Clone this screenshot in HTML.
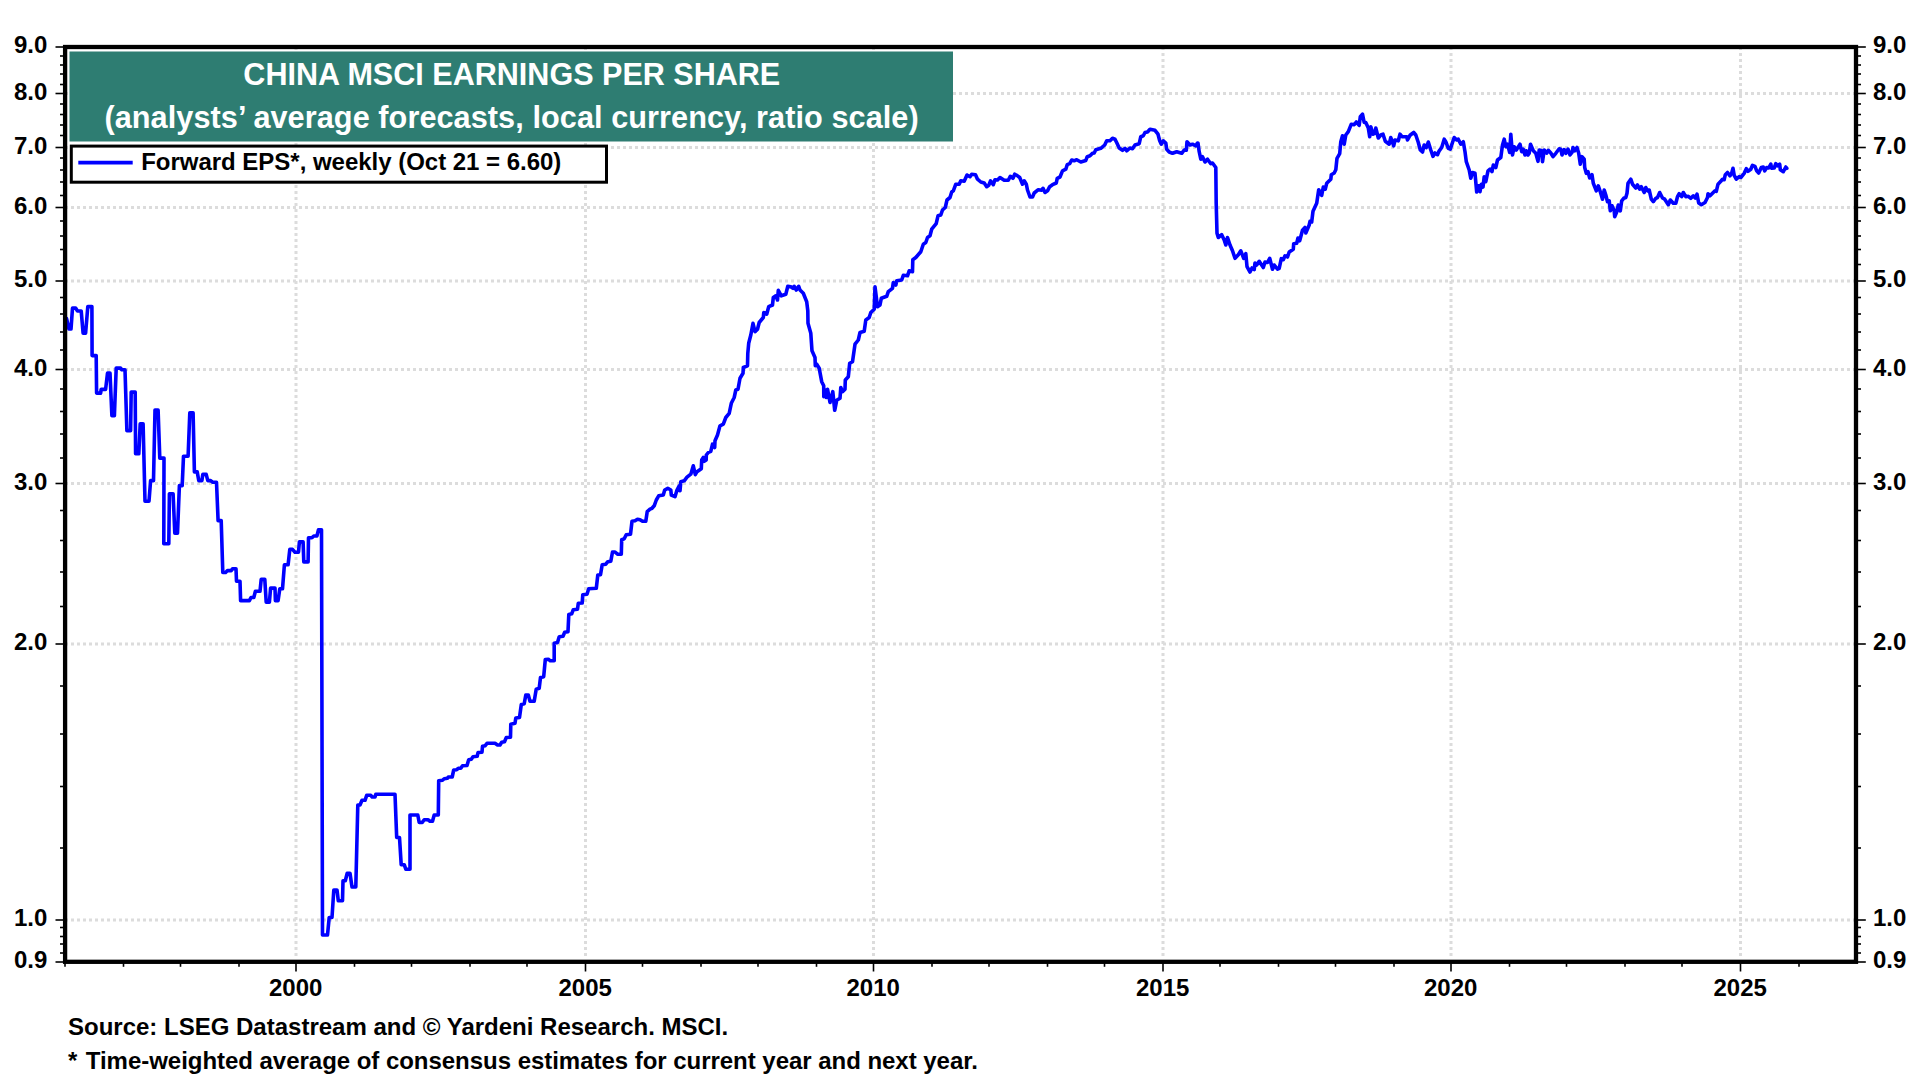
<!DOCTYPE html>
<html lang="en"><head><meta charset="utf-8"><title>China MSCI Earnings Per Share</title>
<style>html,body{margin:0;padding:0;background:#fff;}body{width:1920px;height:1080px;overflow:hidden;}svg{display:block;}text{font-family:"Liberation Sans",Arial,Helvetica,sans-serif;font-weight:bold;}</style></head><body>
<svg width="1920" height="1080" viewBox="0 0 1920 1080">
<rect width="1920" height="1080" fill="#fff"/>
<g stroke="#dcdcdc" stroke-width="3" stroke-dasharray="3 3" fill="none"><line x1="65" x2="1854" y1="920.0" y2="920.0"/><line x1="65" x2="1854" y1="644.0" y2="644.0"/><line x1="65" x2="1854" y1="483.5" y2="483.5"/><line x1="65" x2="1854" y1="369.5" y2="369.5"/><line x1="65" x2="1854" y1="281.0" y2="281.0"/><line x1="65" x2="1854" y1="207.5" y2="207.5"/><line x1="65" x2="1854" y1="147.5" y2="147.5"/><line x1="65" x2="1854" y1="93.5" y2="93.5"/><line x1="296.0" x2="296.0" y1="47" y2="959"/><line x1="585.5" x2="585.5" y1="47" y2="959"/><line x1="873.5" x2="873.5" y1="47" y2="959"/><line x1="1163.0" x2="1163.0" y1="47" y2="959"/><line x1="1451.0" x2="1451.0" y1="47" y2="959"/><line x1="1740.5" x2="1740.5" y1="47" y2="959"/></g>
<rect x="69.5" y="51.5" width="883.5" height="90" fill="#2e7d72"/>
<g fill="#fff" font-size="30.67px" text-anchor="middle"><text x="511.8" y="85" font-size="30.55px">CHINA MSCI EARNINGS PER SHARE</text><text x="511.6" y="127.7" letter-spacing="0.065">(analysts’ average forecasts, local currency, ratio scale)</text></g>
<rect x="71.3" y="146.1" width="535.2" height="36.1" fill="#fff" stroke="#000" stroke-width="3"/>
<line x1="78.3" x2="132.7" y1="162.6" y2="162.6" stroke="#0000ff" stroke-width="3.8"/>
<text x="141.2" y="170" font-size="24px" letter-spacing="-0.02" fill="#000">Forward EPS*, weekly (Oct 21 = 6.60)</text>
<path d="M66.5 318.5 L69.0 329.0 L71.0 329.0 L72.5 308.1 L75.6 308.1 L77.5 311.0 L81.2 311.0 L83.1 333.1 L85.6 333.1 L87.8 306.6 L91.9 306.6 L92.1 355.6 L96.2 355.6 L96.6 393.1 L100.6 393.1 L101.2 389.4 L105.6 389.4 L107.5 373.1 L110.0 373.1 L111.9 415.6 L114.4 415.6 L116.2 368.1 L120.6 368.1 L121.9 369.8 L125.0 369.8 L126.9 430.6 L130.6 430.6 L131.2 392.1 L135.2 392.1 L135.6 453.8 L138.8 453.8 L140.2 423.8 L143.1 423.8 L145.0 501.2 L149.0 501.2 L150.6 480.6 L153.5 480.6 L155.0 410.0 L158.1 410.0 L159.8 458.1 L164.0 458.1 L163.8 543.8 L168.8 543.8 L169.4 493.8 L173.1 493.8 L174.8 533.1 L177.5 533.1 L179.4 485.6 L182.2 485.6 L183.5 456.2 L188.1 456.2 L189.8 412.8 L193.1 412.8 L194.4 471.9 L197.2 471.9 L198.8 480.6 L201.9 480.6 L202.8 474.4 L206.2 474.4 L207.8 480.6 L210.6 480.6 L212.5 482.2 L216.5 482.2 L218.1 520.6 L221.2 520.6 L222.8 572.5 L225.6 572.5 L227.5 570.6 L231.2 570.6 L232.5 568.8 L236.0 568.8 L236.5 581.2 L240.0 581.2 L240.6 600.6 L249.4 600.6 L251.0 597.5 L253.8 597.5 L255.4 591.2 L260.0 591.2 L261.2 579.4 L264.8 579.4 L266.2 602.2 L269.4 602.2 L270.6 588.1 L275.0 588.1 L275.4 600.6 L278.1 600.6 L279.8 588.8 L282.5 588.8 L284.4 564.8 L288.1 564.8 L289.8 549.4 L292.5 549.4 L295.0 552.2 L298.5 552.2 L299.4 541.9 L303.1 541.9 L303.8 561.9 L308.1 561.9 L308.5 537.8 L311.9 537.8 L313.8 536.0 L316.9 536.0 L318.5 529.8 L321.5 529.8 L322.5 935.0 L327.5 935.0 L329.2 917.5 L332.0 917.5 L333.8 890.0 L337.0 890.0 L338.3 900.8 L342.5 900.8 L343.0 880.8 L345.3 880.8 L347.2 873.3 L350.0 873.3 L352.0 887.0 L355.8 887.0 L357.8 805.0 L360.0 805.0 L362.0 800.3 L365.0 800.3 L366.7 795.3 L370.8 795.3 L372.2 797.0 L375.0 797.0 L375.8 794.2 L395.0 794.2 L396.7 837.5 L399.5 837.5 L401.2 864.7 L404.2 864.7 L405.8 869.2 L410.0 869.2 L410.0 815.0 L417.8 815.0 L419.2 822.5 L422.2 822.5 L424.2 819.7 L428.0 819.7 L430.0 821.2 L432.5 821.2 L434.2 815.0 L438.3 815.0 L438.7 780.8 L442.5 780.3 L444.2 778.7 L447.5 778.3 L448.3 777.0 L452.2 777.0 L453.7 770.0 L456.7 769.7 L458.3 768.3 L460.8 768.3 L462.5 765.8 L467.0 765.5 L468.7 759.7 L471.3 759.2 L473.0 756.7 L477.2 756.3 L478.0 752.5 L482.0 752.2 L482.5 746.3 L485.0 745.8 L487.0 743.3 L495.0 743.3 L497.5 745.0 L500.0 745.0 L501.7 742.2 L504.5 741.7 L506.3 737.5 L510.5 737.2 L510.8 724.2 L515.0 723.3 L515.8 718.0 L519.5 717.5 L521.3 704.5 L524.2 703.8 L525.8 695.0 L528.3 695.0 L530.0 701.3 L534.2 701.3 L536.2 689.2 L539.2 688.3 L540.5 677.5 L543.7 676.7 L545.3 659.5 L548.3 659.2 L550.3 660.8 L554.2 660.8 L554.2 643.3 L557.5 642.5 L559.2 636.7 L563.0 636.3 L564.7 632.2 L568.0 631.7 L568.8 614.5 L571.7 613.8 L573.3 609.7 L577.5 609.2 L578.3 603.3 L582.2 603.0 L582.8 594.7 L587.0 594.2 L588.7 588.7 L596.3 588.3 L597.8 575.0 L600.5 574.7 L602.2 564.7 L605.8 564.2 L607.8 561.7 L610.8 561.3 L612.5 552.0 L615.0 552.0 L617.5 554.2 L621.3 554.2 L621.7 539.7 L624.2 538.8 L626.2 534.7 L630.5 534.2 L632.0 521.3 L635.0 520.8 L637.5 519.2 L640.0 519.7 L642.5 521.3 L645.8 521.3 L647.2 511.7 L650.0 509.2 L652.0 508.3 L654.2 505.8 L656.3 500.0 L658.7 495.8 L663.3 495.0 L664.7 490.0 L667.8 488.3 L670.8 490.0 L671.3 495.0 L675.0 496.7 L677.0 490.0 L679.2 485.8 L680.0 490.8 L680.8 481.7 L684.2 480.8 L687.0 477.2 L690.8 474.2 L693.3 465.8 L695.3 474.7 L697.0 471.7 L701.3 468.7 L701.7 460.0 L703.3 457.5 L704.2 461.3 L706.2 460.0 L706.3 455.0 L708.3 452.5 L710.8 451.3 L712.5 444.2 L714.7 447.5 L715.0 440.8 L717.5 435.0 L720.0 425.8 L723.3 424.2 L725.8 417.5 L729.2 413.3 L731.3 403.3 L734.2 397.5 L735.8 390.0 L738.0 389.2 L740.0 378.3 L743.0 373.3 L743.3 367.5 L747.5 365.8 L747.8 353.3 L748.7 343.3 L750.8 335.0 L753.0 323.3 L755.0 331.7 L757.5 329.2 L759.2 322.5 L763.3 317.5 L763.8 312.5 L766.7 314.2 L768.7 306.7 L772.5 305.0 L773.3 297.5 L775.8 295.8 L777.5 300.0 L778.3 290.3 L781.3 295.8 L785.8 294.2 L787.8 286.3 L790.8 286.7 L793.0 288.3 L794.2 286.3 L796.3 290.0 L798.7 286.3 L800.0 290.0 L803.3 293.3 L806.7 301.7 L807.8 310.8 L808.0 323.3 L810.8 333.3 L812.0 350.8 L815.0 357.5 L815.3 365.8 L816.7 364.2 L819.2 368.3 L821.7 381.7 L823.7 385.8 L823.8 396.7 L825.3 390.0 L826.3 397.5 L827.5 389.2 L830.0 402.5 L832.8 391.7 L834.7 410.3 L836.7 400.3 L840.0 398.3 L840.8 387.5 L842.5 391.7 L845.0 389.2 L845.3 380.0 L848.3 376.7 L849.7 363.3 L852.5 361.7 L855.0 344.2 L858.3 340.0 L860.0 332.5 L864.2 331.3 L865.8 320.0 L869.2 317.5 L870.8 312.5 L874.2 309.2 L875.0 286.7 L877.5 306.7 L880.0 305.0 L881.3 298.3 L886.7 296.3 L888.3 291.7 L892.5 288.3 L893.3 282.5 L895.8 285.0 L896.7 280.8 L901.7 280.0 L903.3 275.3 L907.5 275.8 L909.2 270.8 L912.5 271.7 L912.8 259.7 L915.8 257.5 L920.8 251.7 L923.3 244.2 L925.8 242.5 L927.5 237.5 L930.0 235.8 L931.7 229.2 L936.2 223.7 L938.0 215.8 L940.8 215.0 L942.5 210.0 L945.3 207.5 L947.0 200.0 L950.0 197.5 L951.7 192.0 L953.3 190.8 L955.8 184.2 L959.2 184.2 L960.8 180.8 L964.2 181.3 L967.0 175.0 L970.0 176.7 L971.7 174.2 L975.5 174.7 L977.5 179.2 L980.8 182.0 L984.2 183.0 L986.7 186.7 L988.7 185.3 L990.5 180.8 L993.3 184.7 L995.0 179.7 L997.5 180.0 L1000.0 177.5 L1004.2 180.3 L1008.3 180.3 L1010.3 176.3 L1013.0 178.3 L1014.7 174.2 L1017.5 175.8 L1019.7 177.5 L1022.5 184.2 L1024.2 180.8 L1026.3 184.2 L1027.5 190.0 L1030.0 197.0 L1032.5 197.0 L1034.2 193.0 L1038.3 189.7 L1041.7 190.3 L1043.0 188.3 L1045.0 192.5 L1047.5 190.8 L1049.7 186.7 L1052.5 184.7 L1056.3 183.0 L1057.2 178.3 L1060.0 177.0 L1062.5 170.8 L1065.8 169.2 L1067.2 164.7 L1069.7 163.7 L1071.7 160.0 L1074.2 160.8 L1076.7 159.7 L1080.8 162.0 L1085.8 160.5 L1087.2 156.7 L1090.0 155.8 L1092.5 153.3 L1094.2 153.0 L1095.8 149.7 L1100.8 148.3 L1104.7 145.0 L1106.7 140.8 L1110.0 140.8 L1112.5 138.3 L1115.0 139.2 L1117.0 143.3 L1119.2 148.0 L1122.5 150.3 L1125.0 148.3 L1126.7 150.8 L1130.0 148.0 L1132.5 148.7 L1135.0 145.0 L1139.2 143.7 L1140.8 136.7 L1143.3 135.8 L1145.0 132.5 L1147.5 132.0 L1150.0 129.2 L1155.0 130.3 L1158.0 134.2 L1159.7 140.8 L1161.3 144.2 L1163.3 140.8 L1165.8 143.0 L1166.7 149.2 L1169.2 152.0 L1172.5 153.3 L1176.7 151.7 L1181.7 153.3 L1184.2 150.0 L1186.3 150.3 L1187.0 141.7 L1190.0 145.0 L1192.5 144.2 L1195.8 145.8 L1197.5 143.0 L1198.0 143.0 L1199.2 151.7 L1200.8 159.2 L1202.5 156.7 L1205.0 162.0 L1207.5 159.2 L1210.8 163.7 L1212.5 163.0 L1215.8 167.5 L1216.2 203.3 L1217.0 233.3 L1218.3 237.5 L1221.7 234.7 L1224.2 240.0 L1225.8 245.0 L1227.5 237.5 L1230.0 245.0 L1232.5 250.8 L1235.0 258.3 L1238.3 254.7 L1240.8 250.8 L1243.7 258.3 L1245.8 253.7 L1247.0 266.7 L1250.0 272.0 L1252.0 268.0 L1254.2 269.7 L1255.0 263.0 L1256.7 265.0 L1259.2 261.3 L1263.3 267.5 L1265.0 262.0 L1267.5 262.5 L1269.7 258.3 L1272.5 269.2 L1274.2 265.0 L1277.5 269.2 L1279.2 268.3 L1281.3 258.7 L1283.3 259.7 L1285.0 255.8 L1287.5 257.0 L1289.2 252.0 L1293.3 249.2 L1293.7 243.7 L1296.7 243.3 L1298.0 238.0 L1299.7 240.8 L1302.5 230.3 L1305.0 227.5 L1305.8 233.0 L1309.2 225.0 L1310.0 221.3 L1311.7 222.0 L1313.0 211.3 L1316.7 203.3 L1318.7 189.7 L1321.7 195.3 L1323.3 187.0 L1325.3 189.2 L1326.7 183.3 L1330.8 179.2 L1331.3 174.7 L1334.2 173.0 L1335.8 169.7 L1337.0 158.3 L1339.7 153.7 L1340.8 141.7 L1342.5 135.8 L1344.2 144.2 L1345.8 135.0 L1348.3 131.7 L1351.3 124.2 L1354.2 124.7 L1356.3 122.0 L1359.2 125.3 L1360.3 116.7 L1362.5 114.2 L1364.2 122.5 L1365.8 122.5 L1368.3 128.0 L1369.7 136.7 L1370.8 126.7 L1373.0 134.2 L1374.7 133.3 L1375.8 128.0 L1378.3 138.0 L1380.8 135.0 L1383.0 134.2 L1385.3 141.3 L1389.2 144.2 L1390.8 137.5 L1393.7 145.8 L1395.0 140.0 L1398.3 140.8 L1400.0 134.2 L1402.0 136.7 L1406.7 136.7 L1407.5 140.0 L1410.0 135.3 L1413.7 132.5 L1415.8 135.0 L1418.3 142.5 L1420.3 150.0 L1422.5 152.0 L1424.2 145.0 L1426.3 147.5 L1428.3 142.0 L1430.8 150.0 L1433.0 156.3 L1435.0 153.0 L1437.5 154.7 L1439.2 150.8 L1441.7 147.5 L1444.2 139.2 L1445.8 141.7 L1448.3 148.3 L1450.3 149.2 L1452.5 142.5 L1454.2 137.5 L1456.7 140.0 L1458.3 139.2 L1460.8 144.2 L1463.3 141.7 L1465.0 151.7 L1466.3 161.7 L1469.2 170.0 L1470.8 178.3 L1472.5 172.5 L1475.0 173.3 L1476.7 192.0 L1478.7 185.8 L1480.0 191.7 L1481.3 184.2 L1483.0 187.0 L1484.2 176.7 L1485.8 181.7 L1488.0 170.8 L1490.0 169.2 L1492.0 171.7 L1493.3 165.0 L1495.8 167.5 L1497.5 160.0 L1500.8 157.5 L1502.5 145.0 L1504.2 139.2 L1505.8 146.7 L1507.5 144.2 L1509.7 152.5 L1510.8 134.2 L1512.5 155.0 L1514.2 146.7 L1516.3 150.0 L1520.0 144.2 L1521.7 151.7 L1523.3 149.2 L1525.0 155.0 L1526.3 150.8 L1528.0 155.0 L1529.2 153.3 L1530.5 144.2 L1533.3 150.8 L1535.8 153.3 L1538.0 161.3 L1539.2 150.0 L1541.7 150.8 L1542.5 161.7 L1544.2 150.0 L1546.7 153.0 L1548.3 150.3 L1550.8 153.0 L1553.0 156.7 L1555.8 153.3 L1559.2 148.7 L1560.8 149.2 L1562.0 155.0 L1564.2 149.7 L1565.8 153.3 L1568.0 149.2 L1570.0 155.0 L1572.0 152.5 L1573.0 147.5 L1574.7 150.8 L1577.0 147.5 L1578.7 153.3 L1580.3 164.2 L1582.0 156.7 L1584.2 159.2 L1584.7 167.5 L1586.3 173.3 L1588.0 171.7 L1589.7 178.0 L1592.0 174.7 L1593.3 183.3 L1594.7 186.7 L1596.3 190.8 L1598.3 185.8 L1600.0 190.8 L1602.5 199.2 L1604.2 190.0 L1605.8 195.0 L1607.5 201.7 L1609.2 200.8 L1610.3 210.8 L1612.0 205.8 L1614.2 210.8 L1614.7 216.7 L1616.7 212.0 L1618.3 205.0 L1620.3 210.8 L1621.7 200.8 L1623.7 198.3 L1625.8 197.5 L1627.0 193.3 L1628.0 183.3 L1630.8 179.2 L1632.5 184.2 L1635.8 188.0 L1637.5 185.0 L1639.7 189.2 L1641.3 186.7 L1644.2 192.5 L1645.8 187.5 L1647.5 190.8 L1649.2 190.0 L1651.3 199.2 L1653.3 201.7 L1655.8 198.3 L1657.5 197.5 L1659.7 192.5 L1662.5 198.0 L1664.7 199.2 L1668.3 204.7 L1670.3 200.0 L1673.3 203.3 L1675.8 203.3 L1677.5 196.7 L1679.2 193.7 L1681.7 196.7 L1683.3 192.5 L1685.8 196.7 L1688.3 196.3 L1690.8 198.3 L1693.3 195.8 L1695.3 198.0 L1697.0 194.2 L1698.7 203.0 L1701.3 204.7 L1705.0 202.5 L1707.5 197.5 L1708.0 193.7 L1710.0 195.8 L1712.5 193.3 L1715.0 190.8 L1716.3 191.3 L1718.0 184.2 L1720.8 181.3 L1722.5 179.2 L1724.2 179.7 L1725.3 174.7 L1727.5 172.5 L1730.0 175.8 L1731.7 173.0 L1733.0 168.3 L1734.2 175.3 L1736.3 179.2 L1739.2 176.7 L1740.8 177.5 L1744.2 173.3 L1746.3 168.7 L1748.0 171.3 L1750.8 169.2 L1752.5 165.3 L1755.0 166.3 L1756.7 170.8 L1758.7 173.0 L1761.3 167.5 L1763.3 167.0 L1764.7 170.8 L1766.7 167.5 L1768.7 168.0 L1770.8 164.2 L1771.7 168.3 L1774.2 168.0 L1775.8 163.7 L1777.5 165.8 L1779.7 164.2 L1780.3 169.7 L1783.3 171.7 L1785.8 167.0 L1786.8 168.3" fill="none" stroke="#0000ff" stroke-width="3.6" stroke-linejoin="round" stroke-linecap="round"/>
<g stroke="#000" stroke-width="1.6" fill="none"><line x1="55.5" x2="64" y1="962.0" y2="962.0"/><line x1="1857" x2="1865.8" y1="962.0" y2="962.0"/><line x1="55.5" x2="64" y1="920.0" y2="920.0"/><line x1="1857" x2="1865.8" y1="920.0" y2="920.0"/><line x1="55.5" x2="64" y1="644.0" y2="644.0"/><line x1="1857" x2="1865.8" y1="644.0" y2="644.0"/><line x1="55.5" x2="64" y1="483.5" y2="483.5"/><line x1="1857" x2="1865.8" y1="483.5" y2="483.5"/><line x1="55.5" x2="64" y1="369.5" y2="369.5"/><line x1="1857" x2="1865.8" y1="369.5" y2="369.5"/><line x1="55.5" x2="64" y1="281.0" y2="281.0"/><line x1="1857" x2="1865.8" y1="281.0" y2="281.0"/><line x1="55.5" x2="64" y1="207.5" y2="207.5"/><line x1="1857" x2="1865.8" y1="207.5" y2="207.5"/><line x1="55.5" x2="64" y1="147.5" y2="147.5"/><line x1="1857" x2="1865.8" y1="147.5" y2="147.5"/><line x1="55.5" x2="64" y1="93.5" y2="93.5"/><line x1="1857" x2="1865.8" y1="93.5" y2="93.5"/><line x1="55.5" x2="64" y1="47.0" y2="47.0"/><line x1="1857" x2="1865.8" y1="47.0" y2="47.0"/><line x1="60" x2="64" y1="953.0" y2="953.0"/><line x1="1857" x2="1861" y1="953.0" y2="953.0"/><line x1="60" x2="64" y1="944.0" y2="944.0"/><line x1="1857" x2="1861" y1="944.0" y2="944.0"/><line x1="60" x2="64" y1="936.5" y2="936.5"/><line x1="1857" x2="1861" y1="936.5" y2="936.5"/><line x1="60" x2="64" y1="927.5" y2="927.5"/><line x1="1857" x2="1861" y1="927.5" y2="927.5"/><line x1="60" x2="64" y1="848.0" y2="848.0"/><line x1="1857" x2="1861" y1="848.0" y2="848.0"/><line x1="60" x2="64" y1="786.5" y2="786.5"/><line x1="1857" x2="1861" y1="786.5" y2="786.5"/><line x1="60" x2="64" y1="734.0" y2="734.0"/><line x1="1857" x2="1861" y1="734.0" y2="734.0"/><line x1="60" x2="64" y1="686.0" y2="686.0"/><line x1="1857" x2="1861" y1="686.0" y2="686.0"/><line x1="60" x2="64" y1="606.5" y2="606.5"/><line x1="1857" x2="1861" y1="606.5" y2="606.5"/><line x1="60" x2="64" y1="572.0" y2="572.0"/><line x1="1857" x2="1861" y1="572.0" y2="572.0"/><line x1="60" x2="64" y1="540.5" y2="540.5"/><line x1="1857" x2="1861" y1="540.5" y2="540.5"/><line x1="60" x2="64" y1="510.5" y2="510.5"/><line x1="1857" x2="1861" y1="510.5" y2="510.5"/><line x1="60" x2="64" y1="458.0" y2="458.0"/><line x1="1857" x2="1861" y1="458.0" y2="458.0"/><line x1="60" x2="64" y1="434.0" y2="434.0"/><line x1="1857" x2="1861" y1="434.0" y2="434.0"/><line x1="60" x2="64" y1="411.5" y2="411.5"/><line x1="1857" x2="1861" y1="411.5" y2="411.5"/><line x1="60" x2="64" y1="389.0" y2="389.0"/><line x1="1857" x2="1861" y1="389.0" y2="389.0"/><line x1="60" x2="64" y1="350.0" y2="350.0"/><line x1="1857" x2="1861" y1="350.0" y2="350.0"/><line x1="60" x2="64" y1="332.0" y2="332.0"/><line x1="1857" x2="1861" y1="332.0" y2="332.0"/><line x1="60" x2="64" y1="314.0" y2="314.0"/><line x1="1857" x2="1861" y1="314.0" y2="314.0"/><line x1="60" x2="64" y1="297.5" y2="297.5"/><line x1="1857" x2="1861" y1="297.5" y2="297.5"/><line x1="60" x2="64" y1="264.5" y2="264.5"/><line x1="1857" x2="1861" y1="264.5" y2="264.5"/><line x1="60" x2="64" y1="249.5" y2="249.5"/><line x1="1857" x2="1861" y1="249.5" y2="249.5"/><line x1="60" x2="64" y1="236.0" y2="236.0"/><line x1="1857" x2="1861" y1="236.0" y2="236.0"/><line x1="60" x2="64" y1="221.0" y2="221.0"/><line x1="1857" x2="1861" y1="221.0" y2="221.0"/><line x1="60" x2="64" y1="195.5" y2="195.5"/><line x1="1857" x2="1861" y1="195.5" y2="195.5"/><line x1="60" x2="64" y1="182.0" y2="182.0"/><line x1="1857" x2="1861" y1="182.0" y2="182.0"/><line x1="60" x2="64" y1="170.0" y2="170.0"/><line x1="1857" x2="1861" y1="170.0" y2="170.0"/><line x1="60" x2="64" y1="158.0" y2="158.0"/><line x1="1857" x2="1861" y1="158.0" y2="158.0"/><line x1="60" x2="64" y1="135.5" y2="135.5"/><line x1="1857" x2="1861" y1="135.5" y2="135.5"/><line x1="60" x2="64" y1="125.0" y2="125.0"/><line x1="1857" x2="1861" y1="125.0" y2="125.0"/><line x1="60" x2="64" y1="114.5" y2="114.5"/><line x1="1857" x2="1861" y1="114.5" y2="114.5"/><line x1="60" x2="64" y1="104.0" y2="104.0"/><line x1="1857" x2="1861" y1="104.0" y2="104.0"/><line x1="60" x2="64" y1="84.5" y2="84.5"/><line x1="1857" x2="1861" y1="84.5" y2="84.5"/><line x1="60" x2="64" y1="74.0" y2="74.0"/><line x1="1857" x2="1861" y1="74.0" y2="74.0"/><line x1="60" x2="64" y1="65.0" y2="65.0"/><line x1="1857" x2="1861" y1="65.0" y2="65.0"/><line x1="60" x2="64" y1="56.0" y2="56.0"/><line x1="1857" x2="1861" y1="56.0" y2="56.0"/><line x1="65.0" x2="65.0" y1="963" y2="966.8"/><line x1="123.5" x2="123.5" y1="963" y2="966.8"/><line x1="180.5" x2="180.5" y1="963" y2="966.8"/><line x1="239.0" x2="239.0" y1="963" y2="966.8"/><line x1="296.0" x2="296.0" y1="963" y2="971.5"/><line x1="354.5" x2="354.5" y1="963" y2="966.8"/><line x1="411.5" x2="411.5" y1="963" y2="966.8"/><line x1="470.0" x2="470.0" y1="963" y2="966.8"/><line x1="527.0" x2="527.0" y1="963" y2="966.8"/><line x1="585.5" x2="585.5" y1="963" y2="971.5"/><line x1="642.5" x2="642.5" y1="963" y2="966.8"/><line x1="701.0" x2="701.0" y1="963" y2="966.8"/><line x1="758.0" x2="758.0" y1="963" y2="966.8"/><line x1="816.5" x2="816.5" y1="963" y2="966.8"/><line x1="873.5" x2="873.5" y1="963" y2="971.5"/><line x1="932.0" x2="932.0" y1="963" y2="966.8"/><line x1="989.0" x2="989.0" y1="963" y2="966.8"/><line x1="1047.5" x2="1047.5" y1="963" y2="966.8"/><line x1="1104.5" x2="1104.5" y1="963" y2="966.8"/><line x1="1163.0" x2="1163.0" y1="963" y2="971.5"/><line x1="1220.0" x2="1220.0" y1="963" y2="966.8"/><line x1="1278.5" x2="1278.5" y1="963" y2="966.8"/><line x1="1335.5" x2="1335.5" y1="963" y2="966.8"/><line x1="1394.0" x2="1394.0" y1="963" y2="966.8"/><line x1="1451.0" x2="1451.0" y1="963" y2="971.5"/><line x1="1509.5" x2="1509.5" y1="963" y2="966.8"/><line x1="1566.5" x2="1566.5" y1="963" y2="966.8"/><line x1="1625.0" x2="1625.0" y1="963" y2="966.8"/><line x1="1682.0" x2="1682.0" y1="963" y2="966.8"/><line x1="1740.5" x2="1740.5" y1="963" y2="971.5"/><line x1="1799.0" x2="1799.0" y1="963" y2="966.8"/></g>
<rect x="65.1" y="47.0" width="1790.9" height="914.8" fill="none" stroke="#000" stroke-width="4.3"/>
<g font-size="24px" fill="#000"><text x="47.3" y="968.3" text-anchor="end">0.9</text><text x="1872.9" y="968.3">0.9</text><text x="47.3" y="926.3" text-anchor="end">1.0</text><text x="1872.9" y="926.3">1.0</text><text x="47.3" y="650.3" text-anchor="end">2.0</text><text x="1872.9" y="650.3">2.0</text><text x="47.3" y="489.8" text-anchor="end">3.0</text><text x="1872.9" y="489.8">3.0</text><text x="47.3" y="375.8" text-anchor="end">4.0</text><text x="1872.9" y="375.8">4.0</text><text x="47.3" y="287.3" text-anchor="end">5.0</text><text x="1872.9" y="287.3">5.0</text><text x="47.3" y="213.8" text-anchor="end">6.0</text><text x="1872.9" y="213.8">6.0</text><text x="47.3" y="153.8" text-anchor="end">7.0</text><text x="1872.9" y="153.8">7.0</text><text x="47.3" y="99.8" text-anchor="end">8.0</text><text x="1872.9" y="99.8">8.0</text><text x="47.3" y="53.3" text-anchor="end">9.0</text><text x="1872.9" y="53.3">9.0</text><text x="295.7" y="996.2" text-anchor="middle">2000</text><text x="585.2" y="996.2" text-anchor="middle">2005</text><text x="873.2" y="996.2" text-anchor="middle">2010</text><text x="1162.7" y="996.2" text-anchor="middle">2015</text><text x="1450.7" y="996.2" text-anchor="middle">2020</text><text x="1740.2" y="996.2" text-anchor="middle">2025</text></g>
<g font-size="24px" fill="#000"><text x="68" y="1035.4">Source: LSEG Datastream and © Yardeni Research. MSCI.</text><text x="68" y="1068.6">*<tspan dx="1.8" letter-spacing="-0.033"> Time-weighted average of consensus estimates for current year and next year.</tspan></text></g>
</svg></body></html>
